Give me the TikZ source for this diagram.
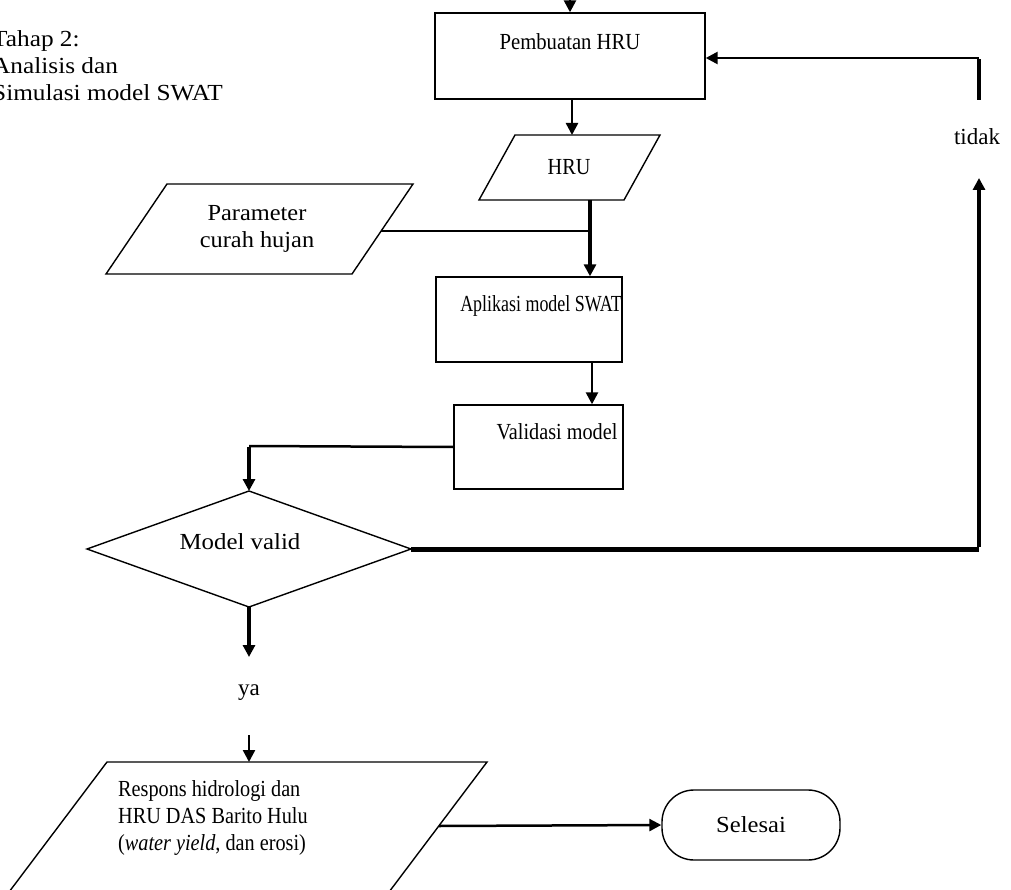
\documentclass[tikz,border=0pt]{standalone}
\usepackage{fontspec}
\usepackage{graphicx}
\setmainfont{Liberation Serif}
\usetikzlibrary{arrows.meta,shapes.geometric}
\newcommand\hsq[2]{\scalebox{#1}[1]{#2}}
\tikzset{
  shapeline/.style={draw, line width=1.4pt},
  box/.style={shapeline, rectangle, inner sep=0pt},
  lbl/.style={font=\fontsize{23}{27}\selectfont, inner sep=0pt},
  tip/.style={-{Triangle[length=12pt,width=12pt]}},
  lnA/.style={line width=1.5pt},
  lnB/.style={line width=2.5pt},
  lnC/.style={line width=4pt},
}
\begin{document}
\begin{tikzpicture}[x=1pt,y=-1pt]
\useasboundingbox (0,0) rectangle (1011,890);
\clip (0,0) rectangle (1011,890);

% side title
\node[lbl, anchor=west] (title) at (-8,68) {\hsq{1.1}{\begin{tabular}{@{}l@{}}Tahap 2:\\Analisis dan\\Simulasi model SWAT\end{tabular}}};

% Pembuatan HRU
\node[box, minimum width=270pt, minimum height=86pt] (pemb) at (570,56) {};
\node[lbl] (pembT) at (570,42) {\hsq{0.9}{Pembuatan HRU}};
\coordinate (topin) at (570,-5);
\draw[lnB,tip] (topin) -- (pemb.north);

% HRU parallelogram
\coordinate (h1) at (515,135); \coordinate (h2) at (660,135);
\coordinate (h3) at (624,200); \coordinate (h4) at (479,200);
\draw[shapeline] (h1) -- (h2) -- (h3) -- (h4) -- cycle;
\node[lbl] (hruT) at (569,167) {\hsq{0.88}{HRU}};
\coordinate (hruTop) at (572,135);
\coordinate (hruBot) at (590,200);
\draw[lnB,tip] (pemb.south -| hruTop) -- (hruTop);

% Parameter curah hujan
\coordinate (p1) at (167,184); \coordinate (p2) at (413,184);
\coordinate (p3) at (352,274); \coordinate (p4) at (106,274);
\draw[shapeline] (p1) -- (p2) -- (p3) -- (p4) -- cycle;
\node[lbl] (parT) at (257,229) {\hsq{1.06}{\begin{tabular}{@{}c@{}}Parameter\\curah hujan\end{tabular}}};
\coordinate (parR) at (381,231);

% Aplikasi model SWAT
\node[box, minimum width=186pt, minimum height=85pt] (apl) at (529,319.5) {};
\node[lbl] (aplT) at (541,306) {\hsq{0.78}{Aplikasi model SWAT}};
\draw[lnC,tip] (hruBot) -- (hruBot |- apl.north);
\draw[lnA] (parR) -- (parR -| hruBot);

% Validasi model
\node[box, minimum width=169pt, minimum height=84pt] (vali) at (538.5,447) {};
\node[lbl] (valiT) at (557,432) {\hsq{0.88}{Validasi model}};
\coordinate (av) at (592,0);
\draw[lnB,tip] (apl.south -| av) -- (vali.north -| av);

% Diamond
\coordinate (dT) at (249,491); \coordinate (dR) at (411,549);
\coordinate (dB) at (249,607); \coordinate (dL) at (87,549);
\draw[shapeline] (dT) -- (dR) -- (dB) -- (dL) -- cycle;
\node[lbl] (dT2) at (240,542) {\hsq{1.08}{Model valid}};
\coordinate (vcorner) at (249,446);
\draw[lnB] (vali.west) -- (vcorner);
\draw[lnC,tip] ([yshift=-1.2pt]vcorner) -- (dT);

% tidak loop
\node[lbl] (tidak) at (977,137) {tidak};
\coordinate (rcorner) at (979,549);
\coordinate (upEnd) at (979,178);
\coordinate (upStart) at (979,100);
\coordinate (corner) at (979,58);
\draw[line width=5pt] (dR) -- (rcorner);
\draw[lnC,tip] ([yshift=2.5pt]rcorner) -- (upEnd);
\draw[lnC] (upStart) -- ([yshift=-1.25pt]corner);
\draw[lnB,tip] (corner) -- (corner -| pemb.east);

% ya
\node[lbl] (ya) at (249,693) {ya};
\coordinate (yaIn) at (249,657);
\draw[lnC,tip] (dB) -- (yaIn);
\coordinate (yaOut) at (249,735);

% Result parallelogram
\coordinate (r1) at (107,762); \coordinate (r2) at (487,762);
\coordinate (r3) at (383,900); \coordinate (r4) at (3,900);
\draw[shapeline] (r1) -- (r2) -- (r3) -- (r4) -- cycle;
\coordinate (rTop) at (249,762);
\draw[lnB,tip] (yaOut) -- (rTop);
\node[lbl, anchor=west] (resT) at (118,818) {\hsq{0.88}{\begin{tabular}{@{}l@{}}Respons hidrologi dan\\HRU DAS Barito Hulu\\(\textit{water yield}, dan erosi)\end{tabular}}};
\coordinate (rR) at (439,826);

% Selesai
\node[shapeline, rounded corners=32pt, minimum width=178pt, minimum height=70pt, lbl] (sel) at (751,825) {\hsq{1.07}{Selesai}};
\draw[lnB,tip] (rR) -- (sel.west);
\end{tikzpicture}
\end{document}
